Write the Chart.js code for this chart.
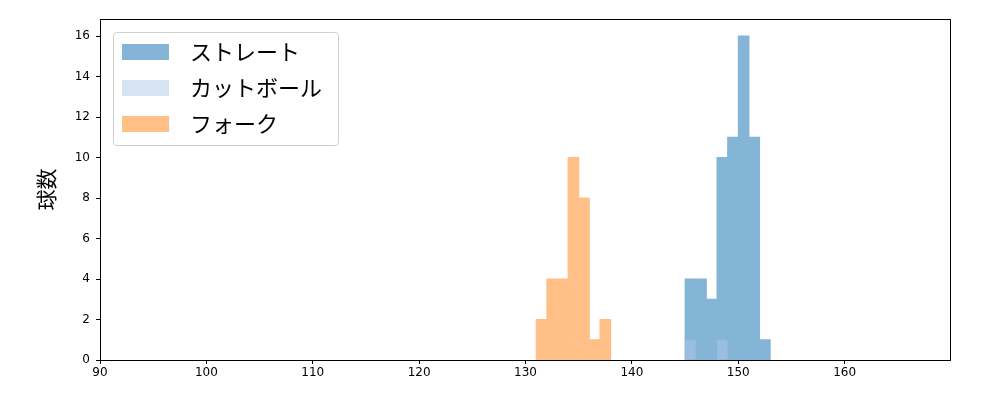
<!DOCTYPE html>
<html>
<head>
<meta charset="utf-8">
<script src="https://cdn.jsdelivr.net/npm/chart.js@4"></script>
<style>
  body { margin: 0; background: #fff; }
  #wrap { position: relative; width: 1000px; height: 400px; }
  #legend {
    position: absolute; left: 113px; top: 32px; width: 224px; height: 112px;
    border: 1px solid #d0d0d0; border-radius: 4px; background: rgba(255,255,255,0.8);
    font-family: "Noto Sans CJK JP", sans-serif; font-size: 22px; color: #000;
  }
  .row { position: absolute; left: 8px; height: 20px; }
  .sw { position: absolute; left: 0; top: 0; width: 47px; height: 16px; }
  .lbl { position: absolute; left: 68px; top: -10px; white-space: nowrap; }
</style>
</head>
<body>
<div id="wrap">
  <canvas id="dis" width="1000" height="400"></canvas>
  <div id="legend"></div>
</div>
<script>
// bin centers (1 km/h bins) and counts
const straightX = [145.5, 146.5, 147.5, 148.5, 149.5, 150.5, 151.5, 152.5];
const straightY = [4, 4, 3, 10, 11, 16, 11, 1];
const cutX = [145.5, 148.5];
const cutY = [1, 1];
const forkX = [131.5, 132.5, 133.5, 134.5, 135.5, 136.5, 137.5];
const forkY = [2, 4, 4, 10, 8, 1, 2];
const xTicks = [90, 100, 110, 120, 130, 140, 150, 160];
const yTicks = [0, 2, 4, 6, 8, 10, 12, 14, 16];

const names = ['ストレート', 'カットボール', 'フォーク'];
const colors = ['rgb(132,180,214)', 'rgba(174,199,232,0.5)', 'rgb(255,191,134)'];
const swatches = ['rgb(132,180,214)', 'rgb(214,227,243)', 'rgb(255,191,134)'];

function pts(xs, ys) {
  return xs.map((x, i) => ({ x: x, y: ys[i] }));
}

const frame = {
  id: 'frame',
  afterDraw(chart) {
    const a = chart.chartArea, c = chart.ctx;
    c.save();
    c.strokeStyle = '#000';
    c.lineWidth = 1;
    c.strokeRect(a.left + 0.5, a.top + 0.5, a.right - a.left, a.bottom - a.top);
    c.restore();
  }
};

window.onload = function() {
  const ctx = document.querySelector('#dis');

  const chartData = {
    datasets: [
      { label: names[0], data: pts(straightX, straightY), backgroundColor: colors[0], order: 1 },
      { label: names[1], data: pts(cutX, cutY), backgroundColor: colors[1], order: 0, inflateAmount: 0 },
      { label: names[2], data: pts(forkX, forkY), backgroundColor: colors[2], order: 2 }
    ]
  };

  new Chart(ctx, {
    type: 'bar',
    data: chartData,
    options: {
      responsive: false,
      animation: false,
      layout: { padding: { top: 19, right: 50, left: 0, bottom: 0 } },
      datasets: { bar: { grouped: false, barPercentage: 1, categoryPercentage: 1, borderWidth: 0, inflateAmount: 0.5 } },
      plugins: { legend: { display: false }, tooltip: { enabled: false } },
      scales: {
        x: {
          type: 'linear', min: 90, max: 169.9, offset: false,
          afterBuildTicks: s => { s.ticks = xTicks.map(v => ({ value: v })); },
          afterFit: s => { s.height = 40; },
          grid: { drawOnChartArea: false, offset: false, tickLength: 4, color: '#000' },
          border: { color: '#000' },
          ticks: { color: '#000', font: { family: 'DejaVu Sans', size: 12 }, maxRotation: 0, padding: 2 }
        },
        y: {
          min: 0, max: 16.84,
          afterBuildTicks: s => { s.ticks = yTicks.map(v => ({ value: v })); },
          afterFit: s => { s.width = 100; },
          grid: { drawOnChartArea: false, tickLength: 4, color: '#000' },
          border: { color: '#000' },
          ticks: { color: '#000', font: { family: 'DejaVu Sans', size: 12 }, padding: 6 },
          title: { display: true, text: '球数', color: '#000', font: { family: 'Noto Sans CJK JP', size: 21 }, padding: { top: 33, bottom: 0 } }
        }
      }
    },
    plugins: [frame]
  });

  // legend box drawn inside the plot, like matplotlib
  const lg = document.getElementById('legend');
  names.forEach((n, i) => {
    const row = document.createElement('div');
    row.className = 'row';
    row.style.top = (11 + i * 36) + 'px';
    row.innerHTML = '<div class="sw" style="background:' + swatches[i] + '"></div><div class="lbl">' + n + '</div>';
    lg.appendChild(row);
  });
};
</script>
</body>
</html>
